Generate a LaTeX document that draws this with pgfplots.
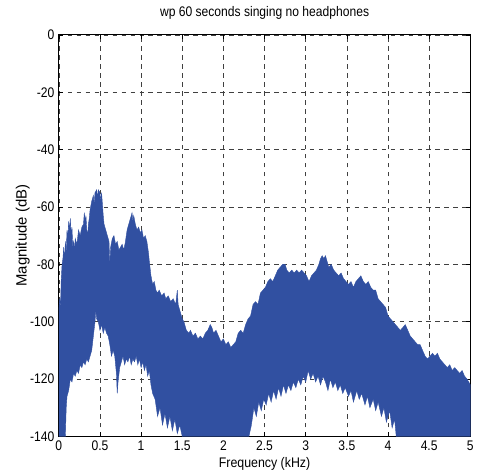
\documentclass[border=0pt]{standalone}
\usepackage{fontspec}
\setmainfont{Liberation Sans}
\newfontfamily\cond[FakeStretch=0.87]{Liberation Sans}
\newfontfamily\condx[FakeStretch=0.89]{Liberation Sans}
\usepackage{pgfplots}
\pgfplotsset{compat=1.18}
\definecolor{specblue}{RGB}{49,80,161}
\begin{document}
\begin{tikzpicture}
\begin{axis}[
  scale only axis,
  width=413bp, height=403bp,
  xmin=0, xmax=5, ymin=-140, ymax=0,
  xtick={0,0.5,1,1.5,2,2.5,3,3.5,4,4.5,5},
  xticklabels={0,0.5,1,1.5,2,2.5,3,3.5,4,4.5,5},
  ytick={-140,-120,-100,-80,-60,-40,-20,0},
  yticklabels={-140,-120,-100,-80,-60,-40,-20,0},
  /pgf/number format/assume math mode=true,
  tick align=inside,
  major tick length=4bp,
  tick style={black, line width=0.5bp},
  axis line style={black, line width=0.8bp},
  grid=major,
  major grid style={black!75, line width=0.5bp, dash pattern=on 4.5bp off 4.5bp},
  ticklabel style={font=\cond\fontsize{14}{16}\selectfont},
  xticklabel style={anchor=north, yshift=-1bp},
  yticklabel style={anchor=east, xshift=-1bp},
  title={\cond\fontsize{14}{16}\selectfont wp 60 seconds singing no headphones},
  title style={at={(axis description cs:0.5,1)}, anchor=base, yshift=12.5bp},
  xlabel={\condx\fontsize{14}{16}\selectfont Frequency (kHz)},
  ylabel={\fontsize{15}{17}\selectfont Magnitude (dB)},
  xlabel style={at={(axis description cs:0.5,0)}, anchor=base, yshift=-31.3bp},
  ylabel style={at={(axis description cs:-0.0782,0.5)}, anchor=base},
]
\addplot[fill=specblue, draw=specblue, line width=0.4bp] coordinates {
(0.00,-96) (0.01,-92) (0.02,-95) (0.03,-85) (0.04,-80) (0.05,-78) (0.06,-74) (0.07,-79)
(0.08,-72) (0.09,-76) (0.10,-68) (0.11,-71) (0.12,-65) (0.13,-68) (0.14,-64) (0.15,-70)
(0.16,-67) (0.17,-74) (0.18,-72) (0.19,-75) (0.20,-71) (0.22,-73) (0.24,-68) (0.26,-70)
(0.28,-67) (0.30,-66) (0.31,-62) (0.32,-65) (0.33,-63) (0.34,-68) (0.35,-70) (0.36,-66)
(0.37,-64) (0.38,-61) (0.40,-58) (0.42,-56) (0.43,-59) (0.44,-55) (0.46,-54) (0.47,-57)
(0.48,-54) (0.50,-55) (0.51,-58) (0.52,-55) (0.53,-59) (0.54,-63) (0.55,-66) (0.57,-68)
(0.59,-70) (0.61,-72) (0.62,-80) (0.63,-74) (0.65,-71) (0.67,-70) (0.69,-73) (0.71,-72)
(0.73,-75) (0.75,-74) (0.77,-73) (0.79,-75) (0.81,-72) (0.83,-68) (0.85,-66) (0.87,-64)
(0.89,-62) (0.90,-65) (0.91,-63) (0.93,-66) (0.95,-68) (0.97,-67) (0.99,-69) (1.01,-68)
(1.03,-71) (1.05,-70) (1.07,-72) (1.09,-76) (1.10,-79) (1.12,-84) (1.14,-87) (1.16,-86)
(1.18,-89) (1.20,-90) (1.22,-89) (1.25,-91) (1.28,-90) (1.30,-92) (1.33,-91) (1.36,-93)
(1.39,-92) (1.42,-94) (1.44,-89) (1.45,-94) (1.48,-97) (1.50,-99) (1.52,-100) (1.55,-103)
(1.58,-104) (1.60,-103) (1.63,-105) (1.66,-104) (1.69,-106) (1.72,-105) (1.75,-106) (1.78,-104)
(1.81,-103) (1.84,-101) (1.86,-102) (1.88,-104) (1.91,-103) (1.94,-105) (1.97,-107) (2.00,-106)
(2.03,-108) (2.06,-107) (2.09,-109) (2.12,-108) (2.15,-107) (2.18,-104) (2.21,-103) (2.24,-104)
(2.27,-101) (2.30,-99) (2.33,-98) (2.36,-94) (2.39,-93) (2.42,-94) (2.45,-90) (2.48,-89)
(2.51,-88) (2.54,-86) (2.57,-85) (2.60,-86) (2.63,-84) (2.66,-82) (2.69,-81) (2.72,-80)
(2.75,-80) (2.77,-82) (2.80,-83) (2.83,-82) (2.86,-83) (2.89,-82) (2.92,-83) (2.95,-82)
(2.98,-83) (3.01,-84) (3.04,-86) (3.07,-84) (3.10,-83) (3.13,-82) (3.16,-80) (3.18,-78)
(3.20,-77) (3.22,-78) (3.24,-77) (3.26,-79) (3.28,-81) (3.31,-80) (3.34,-82) (3.37,-83)
(3.40,-84) (3.43,-83) (3.46,-85) (3.49,-86) (3.52,-87) (3.55,-86) (3.58,-88) (3.61,-86)
(3.64,-85) (3.67,-84) (3.70,-86) (3.73,-87) (3.76,-86) (3.79,-88) (3.82,-89) (3.85,-89)
(3.88,-92) (3.91,-93) (3.94,-94) (3.97,-95) (4.00,-98) (4.03,-99) (4.06,-100) (4.09,-101)
(4.12,-102) (4.15,-103) (4.18,-102) (4.21,-101) (4.24,-103) (4.27,-105) (4.30,-106) (4.33,-107)
(4.36,-108) (4.39,-108) (4.42,-110) (4.45,-112) (4.48,-113) (4.51,-112) (4.54,-111) (4.57,-112)
(4.60,-111) (4.63,-113) (4.66,-114) (4.69,-115) (4.72,-116) (4.75,-115) (4.78,-117) (4.81,-116)
(4.84,-117) (4.87,-118) (4.90,-117) (4.93,-119) (4.96,-120) (4.98,-121) (5.00,-122)
(5.00,-140) (4.10,-140) (4.08,-134) (4.05,-137) (4.02,-131) (3.98,-135) (3.95,-130) (3.92,-133)
(3.88,-128) (3.85,-131) (3.82,-127) (3.78,-130) (3.75,-126) (3.72,-129) (3.68,-125) (3.65,-127)
(3.62,-124) (3.58,-128) (3.55,-124) (3.52,-126) (3.48,-123) (3.45,-125) (3.42,-122) (3.39,-124)
(3.36,-121) (3.33,-123) (3.30,-120) (3.27,-124) (3.24,-121) (3.21,-119) (3.18,-122) (3.15,-119)
(3.12,-121) (3.09,-118) (3.06,-120) (3.03,-117) (3.00,-121) (2.97,-119) (2.94,-122) (2.91,-120)
(2.88,-123) (2.85,-121) (2.82,-124) (2.79,-122) (2.76,-125) (2.73,-122) (2.70,-126) (2.67,-123)
(2.64,-127) (2.61,-124) (2.58,-128) (2.55,-125) (2.52,-129) (2.49,-127) (2.46,-131) (2.43,-128)
(2.40,-133) (2.37,-130) (2.34,-136) (2.31,-140) (1.50,-140) (1.47,-136) (1.44,-139) (1.41,-134)
(1.38,-138) (1.35,-133) (1.32,-137) (1.29,-132) (1.26,-136) (1.23,-130) (1.20,-133) (1.17,-127)
(1.14,-125) (1.12,-122) (1.10,-117) (1.08,-119) (1.06,-115) (1.04,-117) (1.02,-114) (1.00,-116)
(0.98,-113) (0.96,-115) (0.94,-112) (0.92,-114) (0.90,-113) (0.88,-115) (0.86,-112) (0.84,-114)
(0.82,-113) (0.80,-115) (0.78,-112) (0.76,-114) (0.74,-116) (0.72,-121) (0.71,-125) (0.70,-118)
(0.68,-112) (0.66,-110) (0.64,-112) (0.62,-108) (0.60,-105) (0.58,-104) (0.56,-102) (0.54,-104)
(0.52,-101) (0.50,-103) (0.48,-100) (0.46,-99) (0.45,-96) (0.44,-100) (0.42,-105) (0.40,-110)
(0.38,-112) (0.36,-114) (0.34,-113) (0.32,-115) (0.30,-114) (0.28,-116) (0.26,-115) (0.24,-118)
(0.22,-117) (0.20,-119) (0.18,-118) (0.16,-121) (0.14,-120) (0.12,-124) (0.10,-126) (0.09,-130)
(0.08,-140) (0.00,-140)
};
\end{axis}
\path ([shift={(-59bp,-39bp)}]current axis.south west) rectangle ([shift={(5bp,35bp)}]current axis.north east);
\end{tikzpicture}
\end{document}
